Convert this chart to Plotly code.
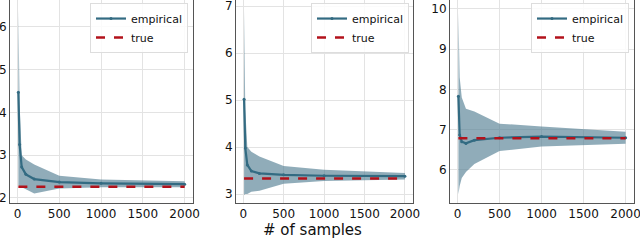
import plotly.graph_objects as go

x_samples = [10, 25, 50, 100, 200, 500, 1000, 2000]

mean1 = [4.47, 3.25, 2.72, 2.55, 2.44, 2.37, 2.34, 2.32]
upper1 = [6.4, 4.2, 3.0, 2.9, 2.78, 2.52, 2.43, 2.39]
lower1 = [2.3, 2.25, 2.25, 2.2, 2.1, 2.22, 2.25, 2.25]
true1 = 2.26

mean2 = [5.02, 3.98, 3.62, 3.49, 3.44, 3.41, 3.39, 3.38]
upper2 = [6.9, 4.8, 4.0, 3.9, 3.8, 3.6, 3.52, 3.45]
lower2 = [2.98, 3.0, 3.0, 3.05, 3.07, 3.22, 3.28, 3.31]
true2 = 3.33

mean3 = [7.83, 6.87, 6.7, 6.66, 6.74, 6.8, 6.83, 6.8]
upper3 = [9.9, 8.3, 7.8, 7.52, 7.45, 7.15, 7.08, 6.95]
lower3 = [5.4, 5.6, 5.8, 5.95, 6.15, 6.47, 6.58, 6.65]
true3 = 6.79

panels = [
    (mean1, upper1, lower1, true1, [1.88, 6.63], [2, 3, 4, 5, 6]),
    (mean2, upper2, lower2, true2, [2.81, 7.13], [3, 4, 5, 6, 7]),
    (mean3, upper3, lower3, true3, [5.18, 10.22], [6, 7, 8, 9, 10]),
]
x_ticks = [0, 500, 1000, 1500, 2000]

domains = [[10/640, 193/640], [236/640, 413/640], [450/640, 634/640]]
legend_right = [188/640, 409/640, 629/640]

line_col = "#336b82"
band_col = "rgba(85,128,148,0.65)"
true_col = "#b2121b"

fig = go.Figure()
for i, (m, up, lo, tv, yr, yt) in enumerate(panels):
    n = "" if i == 0 else str(i + 1)
    xa, ya = "x" + n, "y" + n
    leg = "legend" + n
    fig.add_trace(go.Scatter(x=x_samples + x_samples[::-1], y=up + lo[::-1],
                             fill="toself", fillcolor=band_col, line=dict(width=0),
                             mode="lines", showlegend=False, hoverinfo="skip",
                             xaxis=xa, yaxis=ya))
    fig.add_trace(go.Scatter(x=x_samples, y=m, mode="lines+markers", name="empirical",
                             line=dict(color=line_col, width=2.2),
                             marker=dict(size=3, color=line_col),
                             xaxis=xa, yaxis=ya, legend=leg))
    fig.add_trace(go.Scatter(x=[x_samples[0], x_samples[-1]], y=[tv, tv], mode="lines",
                             name="true", line=dict(color=true_col, width=2.5, dash="dash"),
                             xaxis=xa, yaxis=ya, legend=leg))
    axkw = dict(showline=True, linecolor="#555555", linewidth=1, mirror=True,
                gridcolor="#e3e3e3", gridwidth=1, zeroline=False, automargin=False,
                ticklabeloverflow="allow",
                tickfont=dict(family="DejaVu Sans", size=12, color="#111111"),
                ticks="", ticklen=0)
    fig.layout["xaxis" + n] = dict(domain=domains[i], anchor=ya, range=[-90, 2100],
                                   tickvals=x_ticks, **axkw)
    fig.layout["yaxis" + n] = dict(domain=[0, 1], anchor=xa, range=yr,
                                   tickvals=yt, **axkw)
    fig.layout[leg] = dict(x=legend_right[i], y=0.985, xanchor="right", yanchor="top",
                           bgcolor="rgba(255,255,255,0.85)", bordercolor="#dddddd",
                           borderwidth=1, font=dict(family="DejaVu Sans", size=11, color="#111111"),
                           tracegroupgap=0, itemwidth=30)

fig.add_annotation(text="# of samples", x=312/640, y=-0.133, xref="paper", yref="paper",
                   yanchor="middle", showarrow=False,
                   font=dict(family="DejaVu Sans", size=15, color="#111111"))

fig.update_layout(width=640, height=241, margin=dict(l=0, r=0, t=0, b=38),
                  plot_bgcolor="white", paper_bgcolor="white")
fig.write_html("out.html", config={"displayModeBar": False},
               post_script="document.body.style.margin='0px';")
